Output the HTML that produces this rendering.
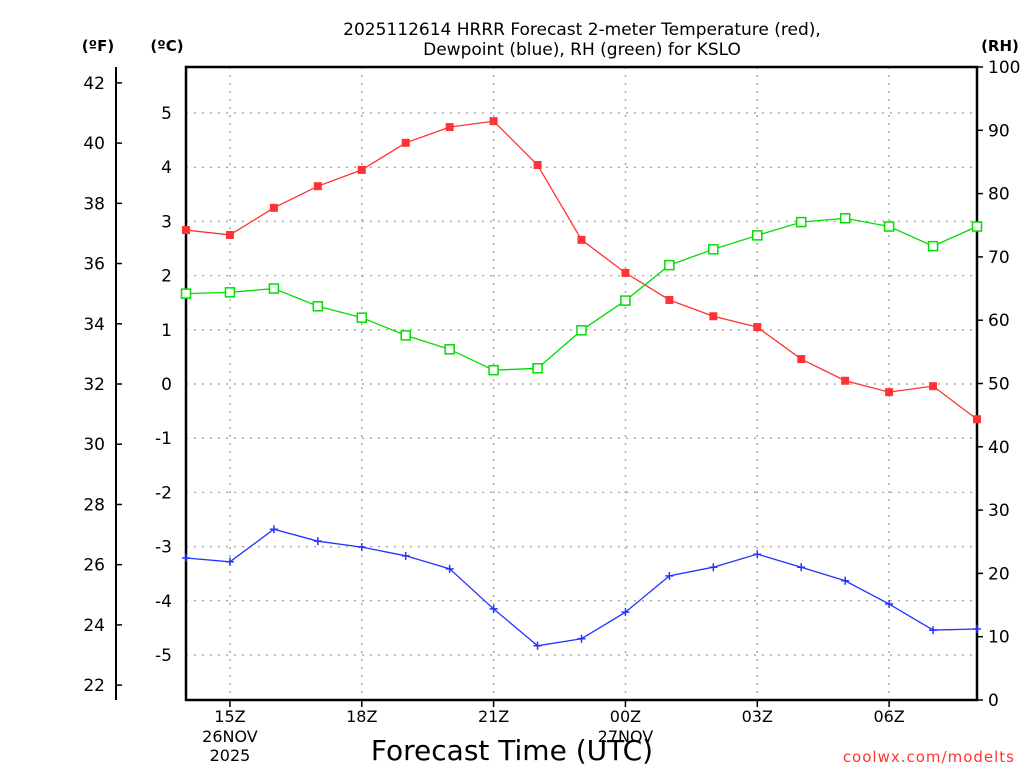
<!DOCTYPE html>
<html><head><meta charset="utf-8"><style>
html,body{margin:0;padding:0;background:#fff;width:1024px;height:768px;overflow:hidden}
svg{display:block;font-family:"DejaVu Sans","Liberation Sans",sans-serif}
</style></head><body>
<svg id="chart" width="1024" height="768" viewBox="0 0 1024 768" xmlns="http://www.w3.org/2000/svg">
<g id="grid"></g>
<g id="axes"></g>
<g id="series"></g>
<text x="582" y="35" text-anchor="middle" font-size="17">2025112614 HRRR Forecast 2-meter Temperature (red),</text>
<text x="582" y="55" text-anchor="middle" font-size="17">Dewpoint (blue), RH (green) for KSLO</text>
<text x="98" y="51" text-anchor="middle" font-size="15" font-weight="bold">(ºF)</text>
<text x="167" y="51" text-anchor="middle" font-size="15" font-weight="bold">(ºC)</text>
<text x="1000" y="51" text-anchor="middle" font-size="15" font-weight="bold">(RH)</text>
<text x="512" y="760" text-anchor="middle" font-size="28">Forecast Time (UTC)</text>
<text x="1015" y="762" text-anchor="end" font-size="15" fill="#ff3333" letter-spacing="1">coolwx.com/modelts</text>
</svg>
<script>
const hours = [14,15,16,17,18,19,20,21,22,23,24,25,26,27,28,29,30,31,32];
const tempC = [2.84,2.75,3.25,3.65,3.95,4.45,4.74,4.85,4.04,2.66,2.05,1.55,1.25,1.05,0.46,0.06,-0.15,-0.04,-0.65];
const dewC = [-3.21,-3.28,-2.68,-2.90,-3.01,-3.17,-3.41,-4.15,-4.83,-4.70,-4.21,-3.54,-3.38,-3.14,-3.38,-3.63,-4.06,-4.54,-4.52];
const rh = [64.2,64.4,65.0,62.2,60.4,57.6,55.4,52.1,52.4,58.4,63.1,68.7,71.2,73.4,75.5,76.1,74.8,71.7,74.8];
const cTicks = [5,4,3,2,1,0,-1,-2,-3,-4,-5];
const fTicks = [42,40,38,36,34,32,30,28,26,24,22];
const rhTicks = [0,10,20,30,40,50,60,70,80,90,100];
const xTickHours = [15,18,21,24,27,30];
const xTickLabels = ["15Z","18Z","21Z","00Z","03Z","06Z"];

const L=186,R=977,T=67,B=700;
const x = h => L + (h-14)*(R-L)/18;
const yC = c => 384 - c*54.2;
const yF = f => yC((f-32)*5/9);
const yRH = v => B - v*(B-T)/100;
const NS="http://www.w3.org/2000/svg";
function mk(tag,attrs,parent){const e=document.createElementNS(NS,tag);for(const k in attrs)e.setAttribute(k,attrs[k]);parent.appendChild(e);return e;}
const grid=document.getElementById('grid'),axes=document.getElementById('axes'),series=document.getElementById('series');

cTicks.forEach(c=>{
  const l=mk('line',{x1:L,x2:R,y1:yC(c),y2:yC(c),stroke:'#aaa','stroke-width':1.5,'stroke-dasharray':'2,6'},grid);
  
  
  const t=mk('text',{x:172,y:yC(c)+6,'text-anchor':'end','font-size':17},axes);
  t.textContent=c;
  
  
});
xTickHours.forEach((h,i)=>{
  const l=mk('line',{x1:x(h),x2:x(h),y1:T,y2:B,stroke:'#aaa','stroke-width':1.5,'stroke-dasharray':'2,6'},grid);
  
  
  mk('line',{x1:x(h),x2:x(h),y1:B,y2:B+7,stroke:'#000','stroke-width':1.5},axes);
  const t=mk('text',{x:x(h),y:722,'text-anchor':'middle','font-size':16},axes);
  t.textContent=xTickLabels[i];
  
  
});
[["26NOV","2025",15],["27NOV","",24]].forEach(d=>{
  const t=mk('text',{x:x(d[2]),y:742,'text-anchor':'middle','font-size':16},axes);t.textContent=d[0];
  
  
  if(d[1]){const t2=mk('text',{x:x(d[2]),y:761,'text-anchor':'middle','font-size':16},axes);t2.textContent=d[1];
  
  }
});
// F axis
mk('line',{x1:116,x2:116,y1:67,y2:700,stroke:'#000','stroke-width':2},axes);
fTicks.forEach(f=>{
  mk('line',{x1:116,x2:122,y1:yF(f),y2:yF(f),stroke:'#000','stroke-width':1.5},axes);
  const t=mk('text',{x:105,y:yF(f)+6,'text-anchor':'end','font-size':17},axes);t.textContent=f;
  
  
});
// RH axis
rhTicks.forEach(v=>{
  mk('line',{x1:R,x2:R+6,y1:yRH(v),y2:yRH(v),stroke:'#000','stroke-width':1.5},axes);
  const t=mk('text',{x:988,y:yRH(v)+6,'font-size':17},axes);t.textContent=v;
  
  
});
const frame=mk('rect',{x:L,y:T,width:R-L,height:B-T,fill:'none',stroke:'#000','stroke-width':2.5},axes);



function line(vals,yf,color,name){
  const p=mk('polyline',{points:vals.map((v,i)=>x(hours[i])+','+yf(v)).join(' '),fill:'none',stroke:color,'stroke-width':1.3},series);
  
  
}
line(tempC,yC,'#ff3333','temperature-line');
line(rh,yRH,'#00dd00','rh-line');
line(dewC,yC,'#2233ff','dewpoint-line');
tempC.forEach((v,i)=>{const m=mk('rect',{x:x(hours[i])-4,y:yC(v)-4,width:8,height:8,fill:'#ff3333'},series);
  
  });
rh.forEach((v,i)=>{const m=mk('rect',{x:x(hours[i])-4.5,y:yRH(v)-4.5,width:9,height:9,fill:'#fff',stroke:'#00dd00','stroke-width':1.5},series);
  
  });
dewC.forEach((v,i)=>{const cx=x(hours[i]),cy=yC(v);
  const m=mk('path',{d:`M${cx-4},${cy}H${cx+4}M${cx},${cy-4}V${cy+4}`,stroke:'#2233ff','stroke-width':1.5},series);
  
  });
</script>
</body></html>
